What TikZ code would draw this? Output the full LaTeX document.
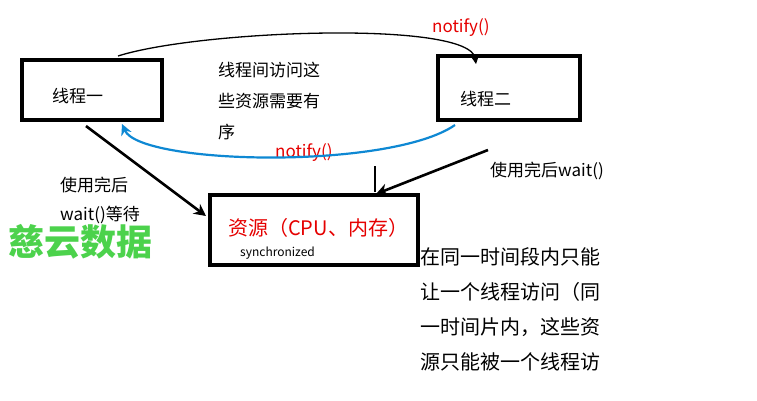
\documentclass[tikz,border=0pt]{standalone}
\usepackage{fontspec}
\setmainfont{Noto Sans CJK SC}
\usetikzlibrary{arrows.meta}
\begin{document}
\begin{tikzpicture}
	[
	x = 1pt, y = -1pt,
	box/.style = {draw = black, line width = 3.2pt, inner sep = 0pt},
	txt/.style = {anchor = west, inner sep = 0pt, font = \fontsize{17}{19}\selectfont},
	redtxt/.style = {txt, text = red!90!black},
	hand/.style = {draw = black, line width = 2.6pt, -{Stealth[length = 12pt, width = 12pt]}},
	blue/.style = {draw = cyan!70!blue, line width = 2.2pt, -{Stealth[length = 11pt, width = 11pt]}}]
	
	\useasboundingbox (0,0) rectangle (757,400);
	
	%% the boxes
	\node[box, minimum width = 140pt, minimum height = 60pt] (t1) at (92,90) {};
	\node[box, minimum width = 142pt, minimum height = 64pt] (t2) at (509,88) {};
	\node[box, minimum width = 208pt, minimum height = 70pt] (res) at (314,230) {};
	\node[txt] (t1l) at (52,96) {线程一};
	\node[txt] (t2l) at (460,99) {线程二};
	\node[redtxt, font = \fontsize{20}{22}\selectfont] (resl) at (228,228) {资源（CPU、内存）};
	\node[txt, font = \fontsize{12}{14}\selectfont] (sync) at (240,253) {synchronized};
	
	%% the texts
	\node[txt] (n1) at (218,70) {线程间访问这};
	\node[txt] (n2) at (218,101) {些资源需要有};
	\node[txt] (n3) at (218,132) {序};
	\node[redtxt] (top) at (432,28) {notify()};
	\node[redtxt] (mid) at (275,153) {notify()};
	\node[txt] (w1) at (60,185) {使用完后};
	\node[txt] (w2) at (60,215) {wait()等待};
	\node[txt] (w3) at (490,171) {使用完后wait()};
	\node[txt, text = green!75!black, font = \fontsize{36}{38}\bfseries\selectfont, opacity = .7] (wm) at (8,242) {慈云数据};
	\node[txt, font = \fontsize{20}{22}\selectfont] (r1) at (420,257) {在同一时间段内只能};
	\node[txt, font = \fontsize{20}{22}\selectfont] (r2) at (420,292) {让一个线程访问（同};
	\node[txt, font = \fontsize{20}{22}\selectfont] (r3) at (420,327) {一时间片内，这些资};
	\node[txt, font = \fontsize{20}{22}\selectfont] (r4) at (420,362) {源只能被一个线程访};
	
	%% the connectors
	\coordinate (a1) at (118,56);
	\coordinate (a2) at (476,64);
	\draw[hand, line width = 1.3pt, -{Stealth[length = 9pt, width = 9pt]}] (a1) .. controls (200,30) and (470,20) .. (a2);
	\coordinate (b1) at (455,125);
	\coordinate (b2) at (122,124);
	\draw[blue] (b1) .. controls (390,170) and (140,165) .. (b2);
	\coordinate (c1) at (86,126);
	\coordinate (c2) at (206,216);
	\draw[hand] (c1) -- (c2);
	\coordinate (d1) at (488,150);
	\coordinate (d2) at (376,194);
	\draw[hand] (d1) -- (d2);
	\draw[line width = 2.6pt] (375,166) -- (375,192);
\end{tikzpicture}
\end{document}
